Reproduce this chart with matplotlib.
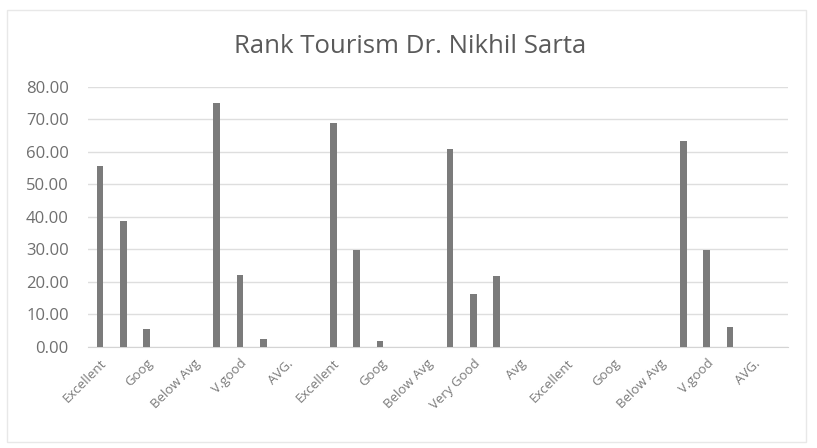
import matplotlib
matplotlib.use("Agg")
import matplotlib.pyplot as plt
import numpy as np
from matplotlib.patches import Rectangle

title = "Rank Tourism Dr. Nikhil Sarta"
# 30 category slots; Excel shows every other label
tick_labels = ["Excellent", "Goog", "Below Avg", "V.good", "AVG.",
               "Excellent", "Goog", "Below Avg", "Very Good", "Avg",
               "Excellent", "Goog", "Below Avg", "V.good", "AVG."]
values = [55.5, 38.8, 5.4, 0, 0,
          75.1, 22.0, 2.6, 0, 0,
          68.7, 29.7, 1.8, 0, 0,
          60.9, 16.2, 21.8, 0, 0,
          0, 0, 0, 0, 0,
          63.3, 29.8, 6.2, 0, 0]
yticks = [0, 10, 20, 30, 40, 50, 60, 70, 80]

FONT = ["Open Sans", "DejaVu Sans"]
plt.rcParams['font.family'] = FONT

fig = plt.figure(figsize=(8.17, 4.48), dpi=100)
fig.patch.set_facecolor("white")
fig.patches.append(Rectangle((7 / 817, 6 / 448), 799 / 817, 432 / 448,
                             transform=fig.transFigure, fill=False,
                             edgecolor="#e8e8e8", linewidth=1.0))

ax = fig.add_axes([0.1081, 0.2254, 0.8568, 0.5811])
x = np.arange(len(values))
ax.bar(x, values, width=0.29, color="#7b7b7b", zorder=3)

ax.set_xlim(-0.5, len(values) - 0.5)
ax.set_ylim(0, 80)
ax.set_yticks(yticks)
ax.set_yticklabels([f"{v:.2f}" for v in yticks])
ax.set_xticks(x[::2])
ax.set_xticklabels(tick_labels, rotation=45, ha="right", va="top",
                   rotation_mode="anchor")

ax.grid(axis="y", color="#dedede", linewidth=1.0, zorder=0)
for s in ["top", "right", "left"]:
    ax.spines[s].set_visible(False)
ax.spines["bottom"].set_color("#d4d4d4")
ax.tick_params(axis="y", length=0, pad=14, labelsize=12, labelcolor="#6f6f6f")
ax.tick_params(axis="x", length=0, pad=7, labelsize=9.5, labelcolor="#7a7a7a")

fig.text(0.502, 0.897, title, ha="center", va="center", fontsize=18.5,
         color="#5a5a5a")

fig.savefig("out.png", dpi=100, facecolor="white")
